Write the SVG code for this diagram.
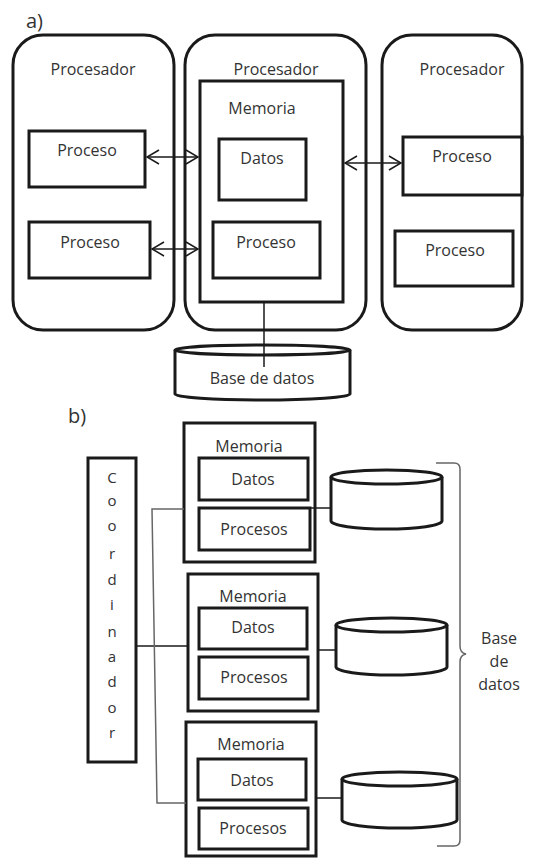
<svg xmlns="http://www.w3.org/2000/svg" width="533" height="858" viewBox="0 0 533 858">
<style>
.box{fill:none;stroke:#1a1a1a;stroke-width:3}
.cyl{fill:#fff;stroke:#1a1a1a;stroke-width:3}
.ln{fill:none;stroke:#1a1a1a;stroke-width:1.5}
.gr{fill:none;stroke:#666;stroke-width:1.5}
text{font-family:"Open Sans","DejaVu Sans",sans-serif;font-size:16px;fill:#333333;text-anchor:middle}
.lbl{font-size:20px;text-anchor:start}
.co{font-size:15px;fill:#333333}
</style>
<defs>
<marker id="ah" viewBox="0 0 14 16" refX="13" refY="8" markerWidth="14" markerHeight="16" markerUnits="userSpaceOnUse" orient="auto-start-reverse">
<path d="M1,1 L13,8 L1,15" fill="none" stroke="#1a1a1a" stroke-width="1.5"/>
</marker>
</defs>
<rect width="533" height="858" fill="#fff"/>
<text class="lbl" x="26" y="28">a)</text>
<text class="lbl" x="68" y="423">b)</text>

<g id="proc1">
<rect class="box" x="13" y="35" width="161" height="295" rx="30"/>
<text x="93" y="75">Procesador</text>
<g id="p1a"><rect class="box" x="29" y="131" width="116" height="56"/><text x="87" y="156">Proceso</text></g>
<g id="p1b"><rect class="box" x="29" y="222" width="121" height="56"/><text x="90" y="248">Proceso</text></g>
</g>

<g id="proc2">
<rect class="box" x="185" y="35" width="181" height="295" rx="30"/>
<text x="276" y="75">Procesador</text>
<g id="mem"><rect class="box" x="200" y="81" width="143" height="221"/><text x="262" y="114">Memoria</text>
<g id="datos"><rect class="box" x="219" y="139" width="87" height="61"/><text x="262" y="164">Datos</text></g>
<g id="p2"><rect class="box" x="213" y="222" width="107" height="56"/><text x="266" y="248">Proceso</text></g>
</g>
</g>

<g id="proc3">
<rect class="box" x="382" y="35" width="140" height="295" rx="30"/>
<text x="462" y="75">Procesador</text>
<g id="p3a"><rect class="box" x="403" y="137" width="119" height="58"/><text x="462" y="162">Proceso</text></g>
<g id="p3b"><rect class="box" x="395" y="231" width="118" height="55"/><text x="455" y="256">Proceso</text></g>
</g>

<g id="db">
<path class="cyl" d="M175,350 L175,394 A87.5,6 0 0 0 350,394 L350,350"/>
<ellipse class="cyl" cx="262.5" cy="350" rx="87.5" ry="5"/>
<text x="262" y="384">Base de datos</text>
</g>

<g id="coord">
<rect class="box" x="88" y="458" width="48" height="304"/>
<text class="co" x="112" y="483">C</text>
<text class="co" x="112" y="506">o</text>
<text class="co" x="112" y="531">o</text>
<text class="co" x="112" y="559">r</text>
<text class="co" x="112" y="585">d</text>
<text class="co" x="112" y="610">i</text>
<text class="co" x="112" y="637">n</text>
<text class="co" x="112" y="662">a</text>
<text class="co" x="112" y="687">d</text>
<text class="co" x="112" y="713">o</text>
<text class="co" x="112" y="738">r</text>
</g>

<g id="mem1">
<rect class="box" x="184" y="423" width="131" height="139"/><text x="249" y="452">Memoria</text>
<rect class="box" x="199" y="458" width="109" height="42"/><text x="253" y="485">Datos</text>
<rect class="box" x="199" y="508" width="111" height="42"/><text x="254" y="535">Procesos</text>
</g>
<g id="mem2">
<rect class="box" x="188" y="574" width="130" height="137"/><text x="253" y="602">Memoria</text>
<rect class="box" x="199" y="608" width="108" height="41"/><text x="253" y="633">Datos</text>
<rect class="box" x="199" y="657" width="109" height="42"/><text x="254" y="683">Procesos</text>
</g>
<g id="mem3">
<rect class="box" x="186" y="722" width="130" height="134"/><text x="251" y="750">Memoria</text>
<rect class="box" x="198" y="759" width="108" height="41"/><text x="252" y="786">Datos</text>
<rect class="box" x="199" y="808" width="109" height="41"/><text x="253" y="834">Procesos</text>
</g>

<g id="db1">
<path class="cyl" d="M331,477 L331,521 A55.5,8 0 0 0 442,521 L442,477"/>
<ellipse class="cyl" cx="386.5" cy="477" rx="55.5" ry="7"/>
</g>
<g id="db2">
<path class="cyl" d="M336,625 L336,667 A55.5,8 0 0 0 447,667 L447,625"/>
<ellipse class="cyl" cx="391.5" cy="625" rx="55.5" ry="7"/>
</g>
<g id="db3">
<path class="cyl" d="M342,779 L342,820 A57.5,8 0 0 0 457,820 L457,779"/>
<ellipse class="cyl" cx="399.5" cy="779" rx="57.5" ry="7"/>
</g>

<g id="brace">
<path class="gr" d="M436,463 L454,463 Q460,463 460,469 L460,646 Q460,653 466,654 Q460,655 460,662 L460,840 Q460,846 454,846 L437,846"/>
<text x="499" y="644">Base</text>
<text x="499" y="667">de</text>
<text x="499" y="690">datos</text>
</g>

<g id="connectors">
<line class="ln" x1="147" y1="157" x2="198" y2="157" marker-start="url(#ah)" marker-end="url(#ah)"/>
<line class="ln" x1="152" y1="249" x2="198" y2="249" marker-start="url(#ah)" marker-end="url(#ah)"/>
<line class="ln" x1="345" y1="163" x2="401" y2="163" marker-start="url(#ah)" marker-end="url(#ah)"/>
<line class="ln" x1="264" y1="303" x2="264" y2="367"/>
<line class="ln" x1="137" y1="646" x2="187" y2="646"/>
<path class="gr" d="M184,509 L152,509 L157,803 L186,803"/>
<line class="ln" x1="310" y1="508" x2="331" y2="508"/>
<line class="ln" x1="318" y1="650" x2="336" y2="650"/>
<line class="ln" x1="316" y1="798" x2="342" y2="798"/>
</g>
</svg>
